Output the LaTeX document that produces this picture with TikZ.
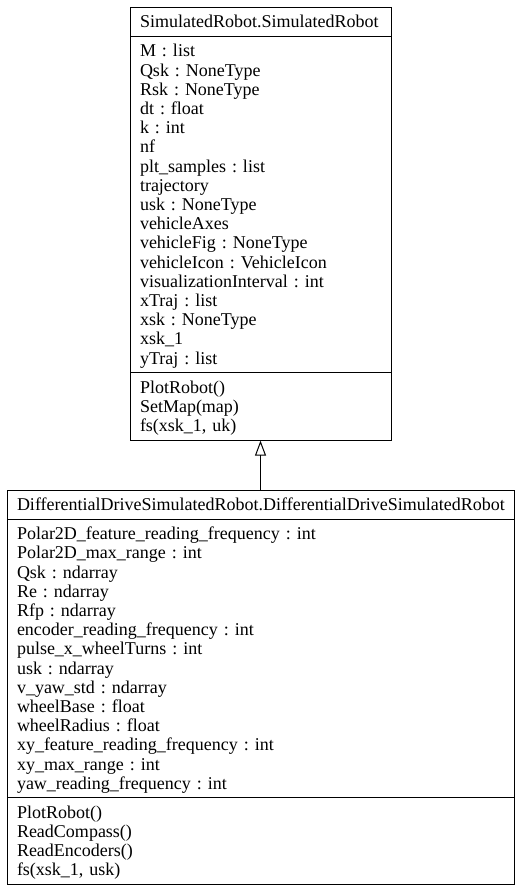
\documentclass[tikz,border=0pt]{standalone}
\usepackage{fontspec}
\setmainfont{Liberation Serif}
\frenchspacing
\usetikzlibrary{shapes.multipart}
\usetikzlibrary{positioning}
\usetikzlibrary{arrows.meta}
\newcommand{\pt}{\rule{0pt}{17pt}} % top padding of a compartment
\newcommand{\pb}{\rule[-5pt]{0pt}{5pt}} % bottom padding of a compartment
\tikzset{node distance=49pt, % Gap between the two classes
umlclass/.style={ % Sets the properties for each class box
rectangle split,
rectangle split parts=3,
draw,
line width=1pt,
align=left,
inner xsep=10pt,
inner ysep=3pt,
font=\fontsize{18}{19.2}\selectfont},
inherit/.style={ % Generalisation arrow with open triangle head
draw,
line width=1pt,
-{Triangle[open, length=15pt, width=11pt]}}}

\begin{document}
\begin{tikzpicture}
					\useasboundingbox (0pt,0pt) rectangle (523pt,-885pt);

					\node[umlclass, text width=241pt, anchor=north] (simrobot) at (260.5pt,-7pt)
					{\centering\pt SimulatedRobot.SimulatedRobot\pb
					\nodepart{two}\pt M : list\\ Qsk : NoneType\\ Rsk : NoneType\\ dt : float\\ k : int\\ nf\\
					plt\_samples : list\\ trajectory\\ usk : NoneType\\ vehicleAxes\\ vehicleFig : NoneType\\
					vehicleIcon : VehicleIcon\\ visualizationInterval : int\\ xTraj : list\\ xsk : NoneType\\
					xsk\_1\\ yTraj : list\pb
					\nodepart{three}\pt PlotRobot()\\ SetMap(map)\\ fs(xsk\_1, uk)\pb};

					\node[umlclass, text width=487pt, below=of simrobot] (ddrobot)
					{\centering\pt DifferentialDriveSimulatedRobot.DifferentialDriveSimulatedRobot\pb
					\nodepart{two}\pt Polar2D\_feature\_reading\_frequency : int\\ Polar2D\_max\_range : int\\
					Qsk : ndarray\\ Re : ndarray\\ Rfp : ndarray\\ encoder\_reading\_frequency : int\\
					pulse\_x\_wheelTurns : int\\ usk : ndarray\\ v\_yaw\_std : ndarray\\ wheelBase : float\\
					wheelRadius : float\\ xy\_feature\_reading\_frequency : int\\ xy\_max\_range : int\\
					yaw\_reading\_frequency : int\pb
					\nodepart{three}\pt PlotRobot()\\ ReadCompass()\\ ReadEncoders()\\ fs(xsk\_1, usk)\pb};

					% \draw (simrobot) -- (ddrobot);
					\draw[inherit] (ddrobot.north) -- (simrobot.south);
				\end{tikzpicture}
\end{document}
